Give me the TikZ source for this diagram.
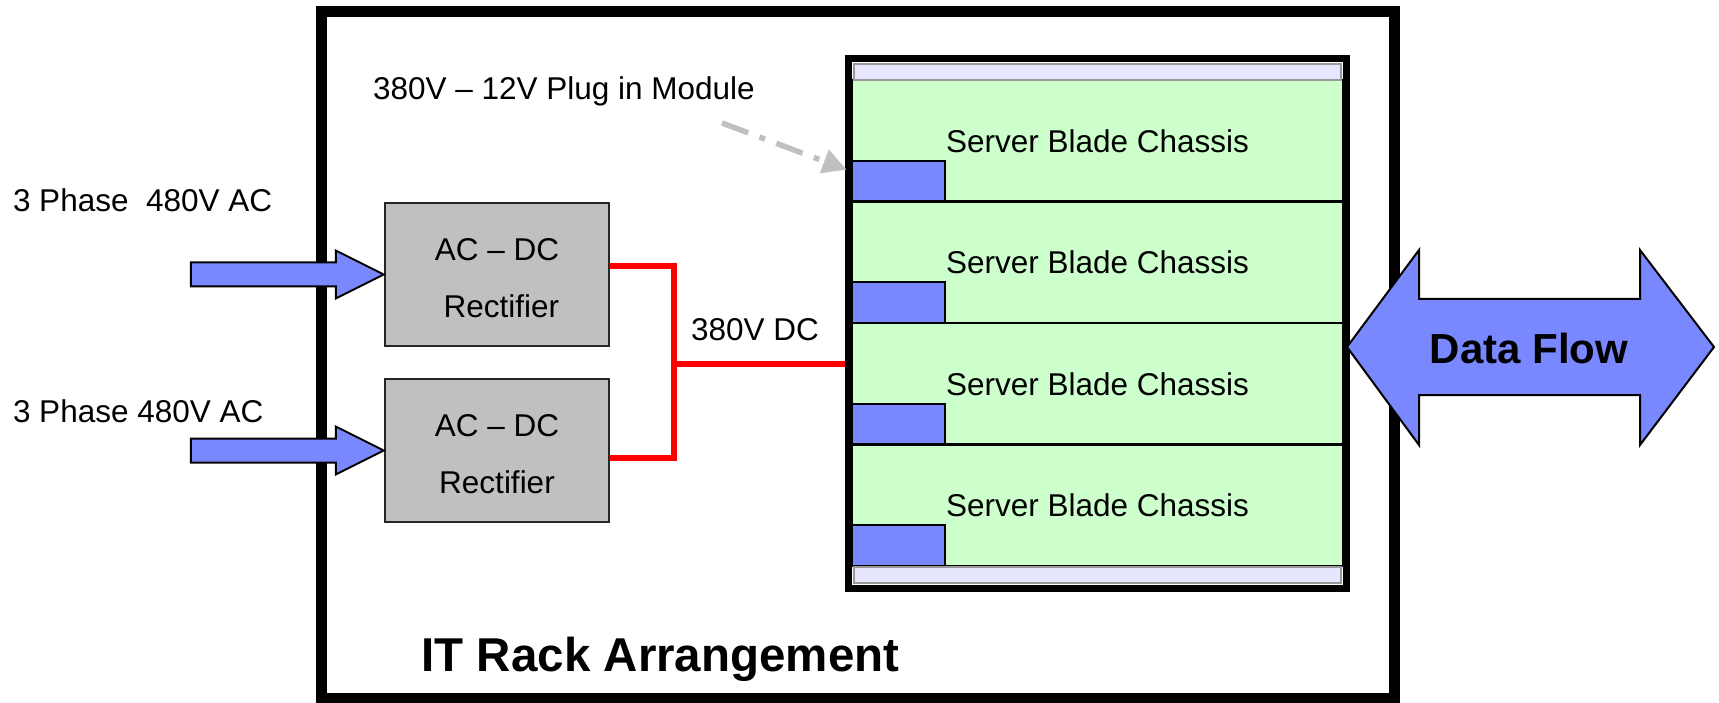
\documentclass[tikz,border=0pt]{standalone}
\usepackage{fontspec}
\setmainfont{Liberation Sans}
\usetikzlibrary{calc,arrows.meta}
\definecolor{modblue}{RGB}{122,136,255}
\definecolor{bladegreen}{RGB}{204,255,204}
\definecolor{railgrey}{RGB}{230,230,255}
\definecolor{rectgrey}{RGB}{192,192,192}
\definecolor{pointergrey}{RGB}{192,192,192}
\newcommand{\topstrut}{\rule{0pt}{29pt}}
\begin{document}
\begin{tikzpicture}[x=1pt,y=-1pt,
  lbl/.style={font=\fontsize{31.5}{38}\selectfont, inner sep=0pt, outer sep=0pt},
  rectifier/.style={draw=black!85, line width=2.5pt, fill=rectgrey,
    minimum width=224pt, minimum height=143pt, inner sep=0pt, align=center,
    font=\fontsize{31.5}{56.5}\selectfont},
  slotbox/.style={draw=black, line width=2.5pt, fill=bladegreen,
    minimum width=491pt, minimum height=121.5pt, inner sep=0pt,
    font=\fontsize{31.5}{38}\selectfont},
  module/.style={draw=black, line width=2pt, fill=modblue,
    minimum width=93pt, minimum height=41pt, inner sep=0pt, anchor=south west},
  rail/.style={draw=black!40, line width=1.5pt, fill=railgrey,
    minimum width=487pt, minimum height=16pt, inner sep=0pt},
  blockarrow/.style={draw=black, line width=2pt, fill=modblue, line join=miter},
  powerline/.style={draw=red, line width=6pt, line join=miter},
  pointer/.style={draw=pointergrey, line width=5.5pt,
    dash pattern=on 28pt off 12pt on 6pt off 12pt,
    -{Triangle[length=24pt,width=24pt]}},
]
\useasboundingbox (0,0) rectangle (1719,703);

% rack enclosure
\node[draw, line width=11pt, minimum width=1073pt, minimum height=686.5pt,
  inner sep=0pt] (rack) at (857.5,354.75) {};

% rectifiers
\node[rectifier] (rect1) at (497,274.5) {\topstrut AC – DC\\\ Rectifier};
\node[rectifier] (rect2) at (497,450.5) {\topstrut AC – DC\\Rectifier};

% three-phase feeds
\foreach \r in {rect1,rect2}{
  \filldraw[blockarrow] (\r.west) -- ++(-48,-24) -- ++(0,12) -- ++(-145,0)
    -- ++(0,24) -- ++(145,0) -- ++(0,12) -- cycle;
}
\node[lbl, anchor=base west] (feed1) at (13,212) {3 Phase\ \ 480V AC};
\node[lbl, anchor=base west] (feed2) at (13,422) {3 Phase 480V AC};

% server blade slots
\foreach \i in {1,...,4}{
  \node[slotbox] (slot\i) at (1097.5,{140.75+121.5*(\i-1)}) {Server Blade Chassis};
  \node[module] (mod\i) at (slot\i.south west) {};
}
\node[rail] (railtop) at (1097.5,72) {};
\node[rail] (railbot) at (1097.5,575) {};

% 380V DC bus
\coordinate (bus) at (674,364);
\draw[powerline] ($(rect1.east)+(0,-8.5)$) -| (bus) |- ($(rect2.east)+(0,7.5)$);

% chassis frame
\node[draw, line width=7pt, minimum width=498pt, minimum height=530pt,
  inner sep=0pt] (chassis) at (1097.5,323.5) {};
\draw[powerline] (bus) -- (bus -| chassis.west);
\node[lbl, anchor=base west] (buslbl) at (691,341) {380V DC};

% plug-in module callout
\node[lbl, anchor=base west] (plugtxt) at (373,100) {380V – 12V Plug in Module};
\coordinate (plugtail) at (722,123);
\coordinate (plugtip) at ($(mod1.north west)+(-4,10)$);
\draw[pointer] (plugtail) -- (plugtip);

% data flow arrow
\coordinate (dfL) at (1347,347);
\filldraw[blockarrow] (dfL) -- ++(72,-97) -- ++(0,49) -- ++(221,0) -- ++(0,-49)
  -- ++(74,97) -- ++(-74,98) -- ++(0,-50) -- ++(-221,0) -- ++(0,50) -- cycle;
\node[font=\fontsize{42}{50}\selectfont\bfseries, inner sep=0pt] (dataflow)
  at (1529,348) {Data Flow};

% rack caption
\node[font=\fontsize{47.5}{56}\selectfont\bfseries, inner sep=0pt, anchor=base]
  (racklbl) at (660.5,671) {IT Rack Arrangement};
\end{tikzpicture}
\end{document}
